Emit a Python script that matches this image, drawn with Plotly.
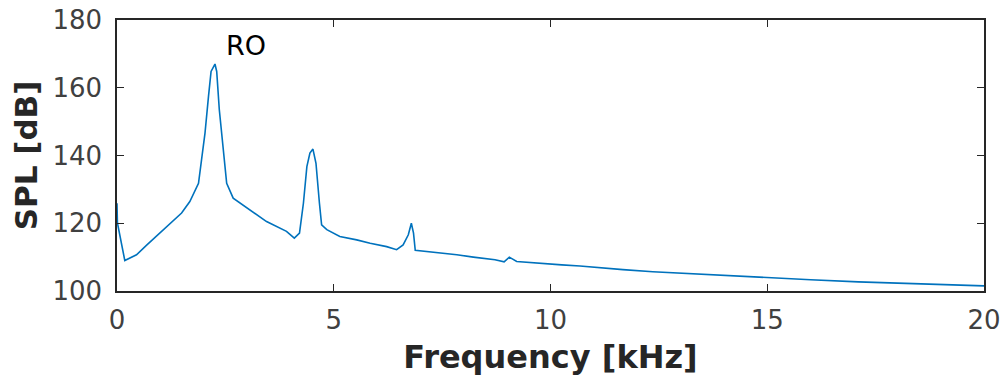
import plotly.graph_objects as go

freq_khz = [0, 0.01, 0.18, 0.45, 0.69, 1.11, 1.49, 1.68, 1.88, 1.95,
            2.03, 2.11, 2.17, 2.26, 2.30, 2.36, 2.45, 2.53, 2.68, 3.07,
            3.45, 3.91, 4.09, 4.21, 4.30, 4.38, 4.45, 4.52, 4.59, 4.67,
            4.72, 4.84, 5.14, 5.53, 5.84, 6.22, 6.45, 6.60, 6.72, 6.79,
            6.84, 6.88, 7.14, 7.45, 7.84, 8.22, 8.72, 8.93, 9.05, 9.22,
            9.68, 10.26, 10.68, 11.0, 11.67, 12.36, 13.23, 14.03, 15.04, 16.0,
            17.1, 18.18, 19.46, 20]
spl_db = [125.9, 120.1, 109.0, 110.7, 113.6, 118.6, 123.0, 126.4, 131.8, 138.7,
          146.6, 157.4, 164.8, 167.0, 164.8, 153.5, 141.7, 131.8, 127.4, 124.0,
          120.5, 117.6, 115.6, 117.1, 125.9, 136.7, 140.7, 141.9, 137.7, 125.9,
          119.5, 118.1, 116.1, 115.1, 114.1, 113.1, 112.2, 113.6, 116.6, 120.0,
          117.1, 112.0, 111.7, 111.2, 110.7, 110.0, 109.2, 108.6, 110.0, 108.7,
          108.2, 107.7, 107.4, 107.0, 106.3, 105.7, 105.1, 104.7, 104.0, 103.3,
          102.7, 102.3, 101.7, 101.5]

x_ticks = [0, 5, 10, 15, 20]
y_ticks = [100, 120, 140, 160, 180]
annot_text = "RO"
annot_x, annot_y = 2.47, 172.6

axis_color = "#262626"
tick_text_color = "#404040"
font_family = "DejaVu Sans"

fig = go.Figure()
fig.add_trace(go.Scatter(x=freq_khz, y=spl_db, mode="lines",
                         line=dict(color="#0072BD", width=1.6),
                         showlegend=False))

fig.add_annotation(x=annot_x, y=annot_y, text=annot_text, showarrow=False,
                   xanchor="left", yanchor="middle",
                   font=dict(family=font_family, size=27, color="black"))

axis_common = dict(showgrid=False, zeroline=False, showline=True, mirror="ticks",
                   linecolor=axis_color, linewidth=1.5, ticks="inside",
                   ticklen=7, tickwidth=1.3, tickcolor=axis_color, automargin=False,
                   tickfont=dict(family=font_family, size=26, color=tick_text_color))

fig.update_xaxes(range=[0, 20], tickvals=x_ticks, ticklabelstandoff=5,
                 title=dict(text="<b>Frequency [kHz]</b>", standoff=12,
                            font=dict(family=font_family, size=32, color=axis_color)),
                 **axis_common)
fig.update_yaxes(range=[100, 180], tickvals=y_ticks, ticklabelstandoff=8,
                 title=dict(text="<b>SPL [dB]</b>", standoff=6,
                            font=dict(family=font_family, size=31, color=axis_color)),
                 **axis_common)

fig.update_layout(width=1001, height=377, plot_bgcolor="white", paper_bgcolor="white",
                  margin=dict(l=117, r=17, t=20, b=86))

fig.write_html("out.html")
